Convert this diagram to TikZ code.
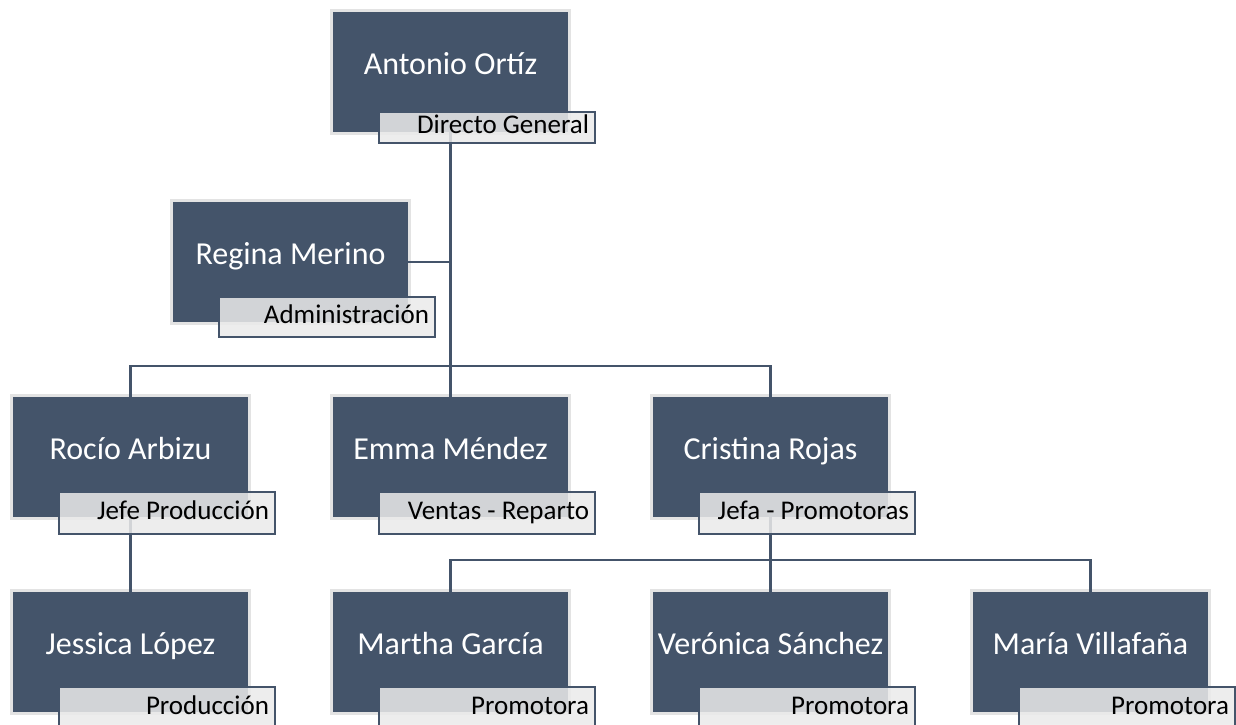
\documentclass[tikz,border=0pt]{standalone}
\usepackage{fontspec}
\setmainfont{Carlito}
\definecolor{slate}{HTML}{44546A}
\definecolor{rim}{HTML}{E3E3E3}
\definecolor{tagfill}{HTML}{EBEBEB}
\newcommand{\tagtext}[1]{\makebox[204pt][r]{#1}}
\begin{document}
\begin{tikzpicture}[x=1pt,y=-1pt,
  person/.style={draw=rim, line width=3pt, fill=slate, anchor=north west,
    minimum width=238pt, minimum height=123pt, inner sep=0pt, outer sep=0pt,
    text=white, text height=64pt, text depth=59pt,
    font=\fontsize{32}{38}\selectfont},
  tag/.style={draw=slate, line width=1.5pt, fill=tagfill, fill opacity=0.85,
    text opacity=1, anchor=north west, minimum width=216pt,
    inner xsep=6pt, inner ysep=0pt, outer sep=0pt,
    text height=27.5pt, text depth=14.5pt, font=\fontsize{27}{32}\selectfont},
  wire/.style={draw=slate, line width=2.3pt}]
\useasboundingbox (0,0) rectangle (1236,724);
\fill[white] (0,0) rectangle (1236,724);
\clip (0,0) rectangle (1236,724);

% levels of the horizontal bars
\coordinate (bar1) at (0,366);
\coordinate (bar2) at (0,560);

% people
\node[person] (ant) at (331.5,10.5)  {Antonio Ortíz};
\node[person] (reg) at (171.5,200.5) {Regina Merino};
\node[person] (roc) at (11.5,395.5)  {Rocío Arbizu};
\node[person] (emm) at (331.5,395.5) {Emma Méndez};
\node[person] (cri) at (651.5,395.5) {Cristina Rojas};
\node[person] (jes) at (11.5,590.5)  {Jessica López};
\node[person] (mar) at (331.5,590.5) {Martha García};
\node[person] (ver) at (651.5,590.5) {Verónica Sánchez};
\node[person] (mvi) at (971.5,590.5) {María Villafaña};

% connectors, drawn under the title tags
\draw[wire] ([yshift=1.5pt]ant.south) -- ([yshift=-1.5pt]emm.north);
\draw[wire] ([xshift=-1.5pt]reg.east) -- (reg.east -| ant.south);
\draw[wire] ([yshift=-1.5pt]roc.north) -- (roc.north |- bar1) -- (cri.north |- bar1) -- ([yshift=-1.5pt]cri.north);
\draw[wire] ([yshift=1.5pt]roc.south) -- ([yshift=-1.5pt]jes.north);
\draw[wire] ([yshift=1.5pt]cri.south) -- ([yshift=-1.5pt]ver.north);
\draw[wire] ([yshift=-1.5pt]mar.north) -- (mar.north |- bar2) -- (mvi.north |- bar2) -- ([yshift=-1.5pt]mvi.north);

% title tags
\node[tag, text height=21pt, text depth=10pt] (antT) at (379,112) {\tagtext{Directo General}};
\node[tag, text height=26.5pt, text depth=13.5pt] (regT) at (219,297) {\tagtext{Administración}};
\node[tag] (rocT) at (59,492)  {\tagtext{Jefe Producción}};
\node[tag] (emmT) at (379,492) {\tagtext{Ventas - Reparto}};
\node[tag] (criT) at (699,492) {\tagtext{Jefa - Promotoras}};
\node[tag] (jesT) at (59,687)  {\tagtext{Producción}};
\node[tag] (marT) at (379,687) {\tagtext{Promotora}};
\node[tag] (verT) at (699,687) {\tagtext{Promotora}};
\node[tag] (mviT) at (1019,687) {\tagtext{Promotora}};
\end{tikzpicture}
\end{document}
